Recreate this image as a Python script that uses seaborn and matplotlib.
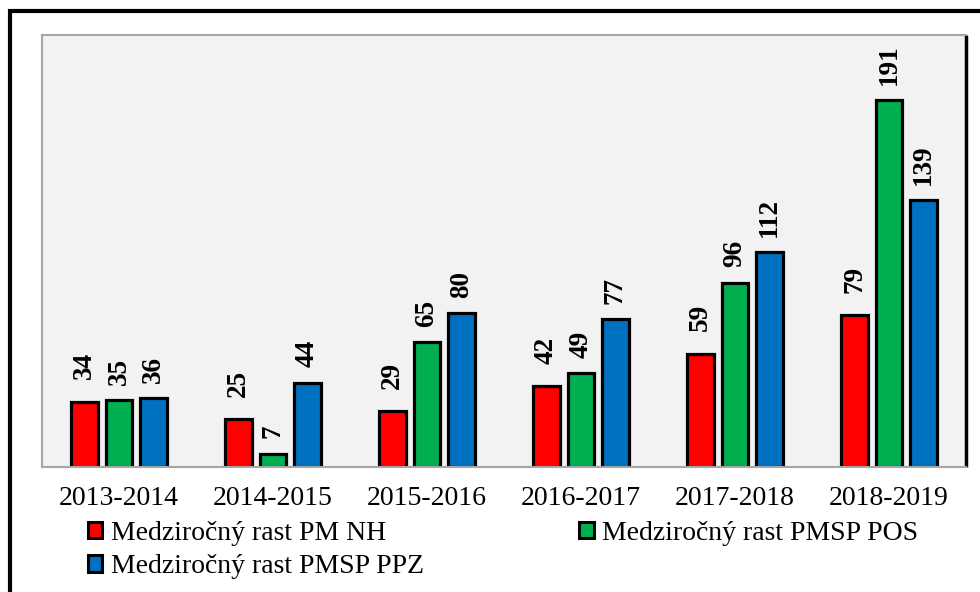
import matplotlib
matplotlib.use("Agg")
import matplotlib.pyplot as plt
from matplotlib.patches import Patch, Rectangle
import pandas as pd
import seaborn as sns

# data
periods = ["2013-2014", "2014-2015", "2015-2016", "2016-2017", "2017-2018", "2018-2019"]
series = ["Medziročný rast PM NH", "Medziročný rast PMSP POS", "Medziročný rast PMSP PPZ"]
pm_nh = [34, 25, 29, 42, 59, 79]
pmsp_pos = [35, 7, 65, 49, 96, 191]
pmsp_ppz = [36, 44, 80, 77, 112, 139]
colors = ["#FF0000", "#00B050", "#0070C0"]

rows = []
for name, vals in zip(series, [pm_nh, pmsp_pos, pmsp_ppz]):
    for p, v in zip(periods, vals):
        rows.append({"period": p, "series": name, "value": v})
df = pd.DataFrame(rows)

sns.set_theme(style="white")
plt.rcParams["font.family"] = ["Liberation Serif", "DejaVu Serif"]
plt.rcParams["text.color"] = "black"

fig = plt.figure(figsize=(9.8, 5.92), dpi=100)
ax = fig.add_axes([42 / 980, 1 - 467 / 592, (966 - 42) / 980, (467 - 35) / 592])
ax.set_facecolor("#F2F2F2")

sns.barplot(
    data=df,
    x="period",
    y="value",
    hue="series",
    palette=colors,
    saturation=1,
    edgecolor="black",
    linewidth=2.3,
    width=0.672,
    gap=0.22,
    errorbar=None,
    legend=False,
    ax=ax,
)

# data labels, the red series sits a bit higher in the original
pads = [16, 11, 11]
for cont, pad in zip(ax.containers, pads):
    ax.bar_label(cont, rotation=90, padding=pad, fontsize=19.5,
                 fontweight="bold", color="black")

ax.set_ylim(0, 225)
ax.set_xlim(-0.5, len(periods) - 0.5)
ax.set_yticks([])
ax.set_xlabel("")
ax.set_ylabel("")
ax.tick_params(axis="x", length=0, pad=14, labelsize=20, colors="black")

for side in ["left", "top", "bottom"]:
    ax.spines[side].set_color("#A6A6A6")
    ax.spines[side].set_linewidth(1.5)
ax.spines["right"].set_color("black")
ax.spines["right"].set_linewidth(2.5)
ax.spines["right"].set_capstyle("butt")

# legend, order so that column-major fill gives NH / POS on row 1
handles = [Patch(facecolor=c, edgecolor="black", linewidth=2.2) for c in colors]
order = [0, 2, 1]
fig.legend(
    [handles[i] for i in order],
    [series[i] for i in order],
    loc="upper left",
    bbox_to_anchor=(88 / 980, 1 - 521 / 592),
    ncol=2,
    frameon=False,
    fontsize=20,
    handlelength=0.52,
    handleheight=0.52,
    handletextpad=0.3,
    columnspacing=5.6,
    labelspacing=0.3,
    borderpad=0,
    borderaxespad=0,
)

# outer frame around the chart
fig.patches.append(Rectangle((10 / 980, -0.1), 1.2, 1 - 11 / 592 + 0.1,
                             transform=fig.transFigure, fill=False,
                             edgecolor="black", linewidth=3, clip_on=False))

fig.savefig("out.png", dpi=100)
